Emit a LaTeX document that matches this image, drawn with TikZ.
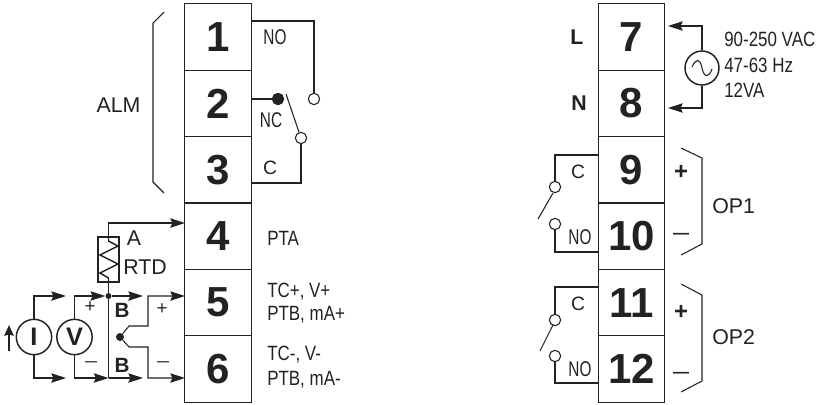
\documentclass[tikz,border=0pt]{standalone}
\usepackage{fontspec}
\setmainfont{Liberation Sans}
\newfontfamily\narrowfont[FakeStretch=0.82]{Liberation Sans}
\newfontfamily\squeezefont[FakeStretch=0.72]{Liberation Sans}
\usetikzlibrary{positioning,arrows.meta}
\definecolor{ink}{HTML}{222222}
\tikzstyle{terminal} = [rectangle, draw=ink, line width=0.9pt, outer sep=0pt, minimum width=49.9pt, minimum height=49.8pt, font=\fontsize{31.5}{32}\selectfont\bfseries, text=ink]
\tikzstyle{wire} = [draw=ink, line width=0.8pt]
\tikzstyle{feed} = [wire, -{Stealth[length=11pt,width=7pt,inset=1.5pt]}]
\tikzstyle{contact} = [circle, draw=ink, fill=white, line width=0.8pt, inner sep=0pt, minimum size=8.5pt]
\tikzstyle{source} = [circle, draw=ink, line width=1.1pt, inner sep=0pt, minimum size=26.5pt, font=\fontsize{19}{20}\selectfont\bfseries, text=ink]
\tikzstyle{lbl} = [inner sep=0pt, text=ink, font=\fontsize{16}{18}\selectfont]
\tikzstyle{notes} = [inner sep=0pt, text=ink, anchor=base west, font=\narrowfont\fontsize{15.5}{17}\selectfont]
\tikzstyle{pole} = [inner sep=0pt, text=ink, font=\squeezefont\fontsize{16}{17}\selectfont]
\tikzstyle{bold} = [inner sep=0pt, text=ink, font=\fontsize{15.5}{16}\selectfont\bfseries]

\begin{document}
\begin{tikzpicture}[x=0.75pt, y=-0.75pt]
    \useasboundingbox (0,0) rectangle (827,404);
    % Left terminal strip
    \node (t1) at (218,37) [terminal] {1};
    \node (t2) [terminal, below=0pt of t1] {2};
    \node (t3) [terminal, below=0pt of t2] {3};
    \node (t4) [terminal, below=0pt of t3] {4};
    \node (t5) [terminal, below=0pt of t4] {5};
    \node (t6) [terminal, below=0pt of t5] {6};
    % Right terminal strip
    \node (t7) at (631.5,37) [terminal] {7};
    \node (t8) [terminal, below=0pt of t7] {8};
    \node (t9) [terminal, below=0pt of t8] {9};
    \node (t10) [terminal, below=0pt of t9] {10};
    \node (t11) [terminal, below=0pt of t10] {11};
    \node (t12) [terminal, below=0pt of t11] {12};

    % Alarm relay
    \coordinate (pin1) at (251,21);
    \coordinate (pin2) at (251,99);
    \coordinate (pin3) at (251,183);
    \node (almno) at (314,99) [contact] {};
    \node (almnc) at (278,99) [contact, fill=ink] {};
    \node (almc) at (301,138) [contact] {};
    \coordinate (almarm) at (286,94);
    \draw [wire] (pin1) -| (almno);
    \draw [wire] (pin2) -- (almnc);
    \draw [wire] (pin3) -| (almc);
    \draw [wire] (almarm) -- (almc);
    \draw [wire] (164,12) -- (153,23) -- (153,182) -- (164,193);
    \node (almlbl) at (118.5,105) [lbl] {ALM};
    \node (nolbl) at (275,37) [pole] {NO};
    \node (nclbl) at (271,120) [pole] {NC};
    \node (clbl) at (270,168) [lbl, font=\fontsize{14.5}{16}\selectfont] {C};

    % RTD input
    \coordinate (pin4) at (185,223);
    \coordinate (pin5) at (185,296);
    \coordinate (pin6) at (185,378);
    \node (rtd) at (108.5,259.5) [rectangle, draw=ink, line width=1.3pt, minimum width=15.7pt, minimum height=33.7pt, inner sep=0pt] {};
    \draw [wire, line width=1.1pt] (rtd.north) -- (108.5,241) -- (118,246) -- (100,255) -- (118,264) -- (100,273) -- (108.5,278) -- (rtd.south);
    \node (joint) at (108.5,296) [circle, fill=ink, inner sep=0pt, minimum size=4.5pt] {};
    \draw [feed, line width=1.4pt] (rtd.north) |- (pin4);
    \draw [wire, line width=1.4pt] (rtd.south) -- (joint);
    \node (albl) at (134,238) [lbl] {A};
    \node (rtdlbl) at (145,267) [lbl] {RTD};

    % Current and voltage sources
    \node (isrc) at (34,337) [source] {I};
    \node (vsrc) at (74.5,337) [source] {V};
    \coordinate (itop) at (66,296);
    \coordinate (ibot) at (66,378);
    \coordinate (bottop) at (143,296);
    \coordinate (botbot) at (143,378);
    \coordinate (jbot) at (108.5,378);
    \draw [feed] (isrc) |- (itop);
    \draw [feed] (isrc) |- (ibot);
    \draw [feed] (vsrc) |- (joint);
    \draw [feed] (vsrc) |- (jbot);
    \draw [feed] (joint) -- (bottop);
    \draw [wire] (joint) -- (jbot);
    \draw [feed] (jbot) -- (botbot);
    \draw [-{Stealth[length=8pt,width=7pt,inset=1pt]}, draw=ink, line width=1.8pt] (9,351) -- (9,325);

    % Thermocouple
    \node (tc) at (120,337) [circle, fill=ink, inner sep=0pt, minimum size=6pt] {};
    \draw [feed] (tc) -- (129,326) -- (148,326) |- (pin5);
    \draw [feed] (tc) -- (129,347) -- (148,347) |- (pin6);
    \node (bup) at (122,310) [bold] {B};
    \node (bdown) at (122,365) [bold] {B};
    \node (vplus) at (90,307) [lbl, font=\fontsize{14}{15}\selectfont] {+};
    \node (vminus) at (91,364) [lbl, font=\fontsize{9}{10}\selectfont\bfseries] {---};
    \node (tplus) at (162,309) [lbl, font=\fontsize{14}{15}\selectfont] {+};
    \node (tminus) at (163,364) [lbl, font=\fontsize{9}{10}\selectfont\bfseries] {---};

    % Input notes
    \node (pta) at (267,245.5) [notes] {PTA};
    \node (tcp) at (267,297.5) [notes] {TC+, V+};
    \node (ptbp) at (267,320.5) [notes] {PTB, mA+};
    \node (tcm) at (267,360.5) [notes] {TC-, V-};
    \node (ptbm) at (267,385.5) [notes] {PTB, mA-};

    % Power supply
    \coordinate (pin7) at (668,26);
    \coordinate (pin8) at (668,108);
    \node (ac) at (702,68) [source, minimum size=25.5pt] {};
    \draw [wire] (692,67) .. controls (696,58) and (700,58) .. (702,68) .. controls (704,78) and (709,78) .. (712,69);
    \draw [feed] (ac) |- (pin7);
    \draw [feed] (ac) |- (pin8);
    \node (llbl) at (577,37) [bold, font=\fontsize{16}{17}\selectfont\bfseries] {L};
    \node (nlbl) at (579,103) [bold, font=\fontsize{16}{17}\selectfont\bfseries] {N};
    \node (volts) at (724,46) [notes] {90-250 VAC};
    \node (hertz) at (724,72) [notes] {47-63 Hz};
    \node (watts) at (724,97) [notes] {12VA};

    % Output relays
    \foreach \name/\top/\cy/\ny/\bot/\ay/\by/\bx in {a/155/187/224/252/193/219/538, b/287/320/356/383/325/351/540} {
        \coordinate (top\name) at (598,\top);
        \coordinate (bot\name) at (598,\bot);
        \node (com\name) at (555,\cy) [contact] {};
        \node (opn\name) at (555,\ny) [contact] {};
        \draw [wire] (top\name) -| (com\name);
        \draw [wire] (bot\name) -| (opn\name);
        \draw [wire] (553,\ay) -- (\bx,\by);
    }
    \node (ca) at (578,172) [lbl, font=\fontsize{14.5}{16}\selectfont] {C};
    \node (noa) at (580,237) [pole] {NO};
    \node (cb) at (578,304) [lbl, font=\fontsize{14.5}{16}\selectfont] {C};
    \node (nob) at (580,369) [pole] {NO};
    \node (opa) at (681,172) [lbl, font=\fontsize{18}{19}\selectfont\bfseries] {+};
    \node (opam) at (681,236) [lbl, font=\fontsize{12}{13}\selectfont\bfseries] {---};
    \node (opb) at (681,312) [lbl, font=\fontsize{18}{19}\selectfont\bfseries] {+};
    \node (opbm) at (681,375) [lbl, font=\fontsize{12}{13}\selectfont\bfseries] {---};
    \draw [wire] (681,148) -- (702,158) -- (702,244) -- (681,255);
    \draw [wire] (681,284) -- (702,295) -- (702,381) -- (681,392);
    \node (op1) at (712,206) [lbl, anchor=west] {OP1};
    \node (op2) at (712,337) [lbl, anchor=west] {OP2};
\end{tikzpicture}
\end{document}
